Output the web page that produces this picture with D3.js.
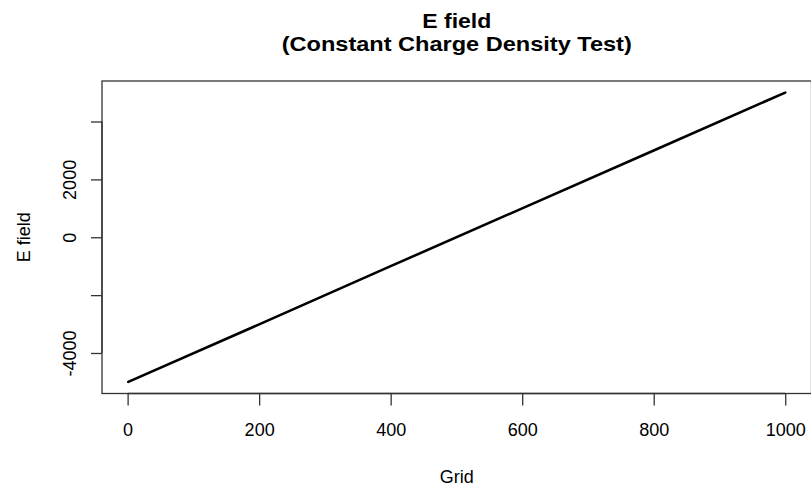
<!DOCTYPE html>
<html>
<head>
<meta charset="utf-8">
<script src="https://cdn.jsdelivr.net/npm/d3@7"></script>
<style>
  html, body { margin: 0; padding: 0; background: #fff; }
  svg { display: block; font-family: "Liberation Sans", Arial, Helvetica, sans-serif; }
</style>
</head>
<body>
<svg id="chart" width="811" height="489"></svg>
<script>
// Electric field along the grid for a constant charge density
const grid   = [1, 200, 400, 600, 800, 1000];
const efield = [-5000, -3010, -1000, 1000, 3000, 5000];

const xTicks = [0, 200, 400, 600, 800, 1000];
const yTicks = [-4000, -2000, 0, 2000, 4000];
const yTickLabels = ["-4000", "", "0", "2000", ""];

const titleLines = ["E field", "(Constant Charge Density Test)"];
const xLabel = "Grid";
const yLabel = "E field";

const W = 811, H = 489;
const plot = { left: 102, right: 811.5, top: 81, bottom: 393.5 };

// R-style 4% padding around the data range
const xExt = d3.extent(grid), yExt = d3.extent(efield);
const xPad = (xExt[1] - xExt[0]) * 0.04, yPad = (yExt[1] - yExt[0]) * 0.04;

const x = d3.scaleLinear().domain([xExt[0] - xPad, xExt[1] + xPad]).range([plot.left, plot.right]);
const y = d3.scaleLinear().domain([yExt[0] - yPad, yExt[1] + yPad]).range([plot.bottom, plot.top]);

const svg = d3.select("#chart");

// data line
svg.append("path")
  .datum(grid.map((g, i) => [g, efield[i]]))
  .attr("fill", "none")
  .attr("stroke", "#000")
  .attr("stroke-width", 2.6)
  .attr("stroke-linecap", "round")
  .attr("d", d3.line().x(d => x(d[0])).y(d => y(d[1])));

// plot frame
svg.append("rect")
  .attr("x", plot.left).attr("y", plot.top)
  .attr("width", plot.right - plot.left).attr("height", plot.bottom - plot.top)
  .attr("fill", "none").attr("stroke", "#333").attr("stroke-width", 1.3);

// bottom axis
const xAxis = svg.append("g")
  .attr("transform", `translate(0,${plot.bottom})`)
  .call(d3.axisBottom(x).tickValues(xTicks).tickSize(12).tickPadding(18).tickFormat(d3.format("d")));
xAxis.select(".domain").attr("d", `M${x(xTicks[0])},0H${x(xTicks[xTicks.length - 1])}`).attr("stroke", "#333").attr("stroke-width", 1.3);
xAxis.selectAll(".tick line").attr("stroke", "#333").attr("stroke-width", 1.3);
xAxis.selectAll(".tick text").attr("font-size", 18).attr("fill", "#000").attr("font-family", "Liberation Sans, Arial, sans-serif");

// left axis
const yAxis = svg.append("g")
  .attr("transform", `translate(${plot.left},0)`)
  .call(d3.axisLeft(y).tickValues(yTicks).tickSize(11).tickFormat((d, i) => yTickLabels[i]));
yAxis.select(".domain").attr("d", `M0,${y(yTicks[0])}V${y(yTicks[yTicks.length - 1])}`).attr("stroke", "#333").attr("stroke-width", 1.3);
yAxis.selectAll(".tick line").attr("stroke", "#333").attr("stroke-width", 1.3);
yAxis.selectAll(".tick text")
  .attr("font-size", 18).attr("fill", "#000")
  .attr("font-family", "Liberation Sans, Arial, sans-serif")
  .attr("x", null).attr("dy", null)
  .attr("text-anchor", "middle")
  .attr("transform", "translate(-26,0) rotate(-90)");

// two-line title
const cx = (plot.left + plot.right) / 2;
svg.append("text").attr("x", cx).attr("y", 28)
  .attr("text-anchor", "middle").attr("font-size", 20.5).attr("font-weight", "bold")
  .attr("textLength", 69).attr("lengthAdjust", "spacingAndGlyphs")
  .text(titleLines[0]);
svg.append("text").attr("x", cx).attr("y", 50.5)
  .attr("text-anchor", "middle").attr("font-size", 20.5).attr("font-weight", "bold")
  .attr("textLength", 350).attr("lengthAdjust", "spacingAndGlyphs")
  .text(titleLines[1]);

svg.append("text").attr("x", cx).attr("y", 483)
  .attr("text-anchor", "middle").attr("font-size", 18)
  .text(xLabel);

svg.append("text")
  .attr("transform", `translate(30,${(plot.top + plot.bottom) / 2}) rotate(-90)`)
  .attr("text-anchor", "middle").attr("font-size", 18)
  .text(yLabel);
</script>
</body>
</html>
